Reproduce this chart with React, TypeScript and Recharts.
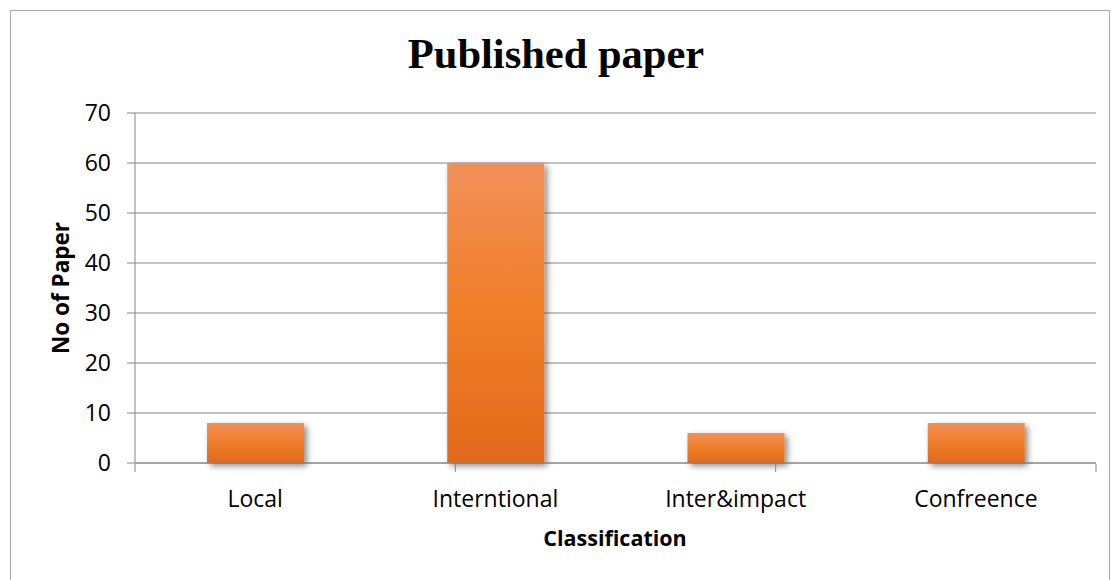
import { BarChart, Bar, XAxis, YAxis, CartesianGrid } from "recharts";

const categories = ["Local", "Interntional", "Inter&impact", "Confreence"];
const papers = [8, 60, 6, 8];
const yTicks = [0, 10, 20, 30, 40, 50, 60, 70];
const boundaryTicks = [0, 1, 2, 3, 4];

const data = categories.map((name, i) => ({ name, papers: papers[i] }));

const axisGray = "#868686";
const labelFont = "'Open Sans', sans-serif";

export default function App() {
  return (
    <div style={{ position: "absolute", left: 0, top: 0, width: 1112, height: 580, background: "#fff", overflow: "hidden" }}>
      {/* outer chart-area frame */}
      <div
        style={{
          position: "absolute",
          left: 10,
          top: 10,
          width: 1100,
          height: 600,
          border: "1px solid #a6a6a6",
          boxSizing: "border-box",
        }}
      />
      <div
        style={{
          position: "absolute",
          left: 0,
          width: 1112,
          top: 26,
          textAlign: "center",
          fontFamily: "'Liberation Serif', 'Times New Roman', serif",
          fontWeight: "bold",
          fontSize: 42.5,
          color: "#000",
          lineHeight: "56px",
        }}
      >
        Published paper
      </div>
      <div
        style={{
          position: "absolute",
          left: 60,
          top: 288,
          transform: "translate(-50%, -50%) rotate(-90deg)",
          fontFamily: labelFont,
          fontWeight: "bold",
          fontSize: 22.5,
          whiteSpace: "nowrap",
          color: "#000",
        }}
      >
        No of Paper
      </div>
      <div
        style={{
          position: "absolute",
          left: 615,
          top: 537,
          transform: "translate(-50%, -50%)",
          fontFamily: labelFont,
          fontWeight: "bold",
          fontSize: 21.5,
          whiteSpace: "nowrap",
          color: "#000",
        }}
      >
        Classification
      </div>
      <div style={{ position: "absolute", left: 0, top: 0 }}>
        <BarChart
          width={1112}
          height={580}
          data={data}
          margin={{ top: 113, right: 16, bottom: 115, left: 75 }}
          barSize={97}
        >
          <defs>
            <linearGradient id="barFill" x1="0" y1="0" x2="0" y2="1">
              <stop offset="0%" stopColor="#F19058" />
              <stop offset="50%" stopColor="#F07E28" />
              <stop offset="100%" stopColor="#E2691B" />
            </linearGradient>
            <filter id="barShadow" x="-20%" y="-20%" width="150%" height="150%">
              <feDropShadow dx="3" dy="3" stdDeviation="3" floodColor="#000" floodOpacity="0.45" />
            </filter>
          </defs>
          <CartesianGrid vertical={false} stroke={axisGray} strokeWidth={1} />
          <XAxis
            dataKey="name"
            interval={0}
            stroke={axisGray}
            tickLine={false}
            tick={{ fill: "#000", fontSize: 23, fontFamily: labelFont, dy: 20 }}
            height={1}
          />
          {/* tick marks on the category boundaries */}
          <XAxis
            xAxisId="bounds"
            type="number"
            domain={[0, 4]}
            ticks={boundaryTicks}
            interval={0}
            axisLine={false}
            tick={() => <g />}
            tickSize={8}
            stroke={axisGray}
            height={1}
          />
          <YAxis
            domain={[0, 70]}
            ticks={yTicks}
            width={60}
            stroke={axisGray}
            tickSize={8}
            tick={{ fill: "#000", fontSize: 23, fontFamily: labelFont, dx: -14 }}
          />
          <Bar
            dataKey="papers"
            fill="url(#barFill)"
            filter="url(#barShadow)"
            isAnimationActive={false}
          />
        </BarChart>
      </div>
    </div>
  );
}
